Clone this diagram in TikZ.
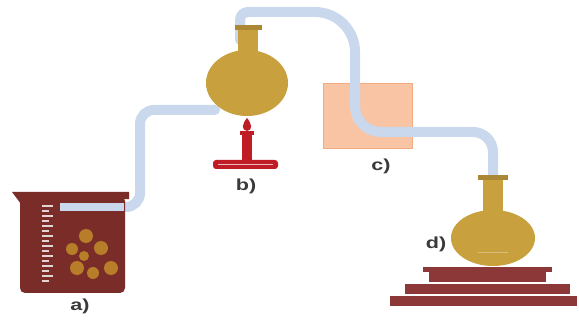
\documentclass[tikz,border=0pt]{standalone}
\usepackage{fontspec}
\setmainfont{Liberation Sans}

\definecolor{glass}{RGB}{201,216,236}
\definecolor{beakerred}{RGB}{122,44,40}
\definecolor{lump}{RGB}{196,140,42}
\definecolor{flask}{RGB}{201,160,62}
\definecolor{flame}{RGB}{192,28,38}
\definecolor{filterbox}{RGB}{249,196,164}
\definecolor{filteredge}{RGB}{242,172,132}
\definecolor{standred}{RGB}{140,56,56}
\definecolor{labelgray}{RGB}{58,58,58}

\tikzset{
  tube/.style={line width=10pt, glass, line cap=round},
  tag/.style={font=\fontsize{16}{18}\selectfont\bfseries, text=labelgray, xscale=1.35, inner sep=0pt},
}

\begin{document}
\begin{tikzpicture}[x=1pt, y=-1pt]
    \useasboundingbox (0, 0) rectangle (579, 323);
    \fill[white] (0, 0) rectangle (579, 323);

    % Tube ends
    \coordinate (inbeaker) at (60, 207);
    \coordinate (bneck) at (240, 40);
    \coordinate (dneck) at (493, 190);

    % Filter box c) sits under the tube
    \fill[filterbox, draw=filteredge] (323, 83) rectangle (412, 148);

    % Tube from the beaker up to flask b)
    \draw[tube] (inbeaker) [rounded corners=14pt] -- (140, 207) -- (140, 110) -- (215, 110);

    % Tube from flask b) through the box down to flask d)
    \draw[tube] (bneck) [rounded corners=8pt] -- (240, 12) [rounded corners=40pt] -- (355, 12)
        [rounded corners=26pt] -- (355, 132) [rounded corners=20pt] -- (493, 132) -- (dneck);

    % Beaker a)
    \fill[beakerred, rounded corners=5pt] (20, 196) -- (20, 293) -- (125, 293) -- (125, 196) -- cycle;
    \fill[beakerred] (12, 192) -- (129, 192) -- (129, 199) -- (21, 204) -- cycle;
    % graduation marks
    \foreach \k in {0,...,15} {
      \pgfmathsetmacro\len{mod(\k,2)==0 ? 11 : 7}
      \draw[white!80!beakerred, line width=1.4pt] (42, 206+5*\k) -- ++(\len, 0);
    }
    % solid lumps
    \foreach \p/\r in {{(86,236)}/7, {(72,249)}/6, {(101,248)}/7, {(111,268)}/7, {(77,268)}/7, {(93,273)}/6, {(84,256)}/5} {
      \fill[lump, opacity=0.85] \p circle (\r);
    }
    % tube end inside the beaker
    \draw[glass, line width=8pt] (inbeaker) -- (124, 207);

    % Burner under flask b)
    \fill[flame] (247, 118) .. controls (252, 124) and (253, 130) .. (247, 131)
        .. controls (241, 130) and (242, 124) .. (247, 118);
    \fill[flame] (240, 131) rectangle (254, 135);
    \fill[flame] (242, 135) rectangle (252, 161);
    \fill[flame, rounded corners=3pt] (213, 160) rectangle (278, 169);
    \draw[white!70!flame, line width=1pt] (218, 165) -- (273, 165);

    % Flask b)
    \fill[flask] (247, 83) ellipse (41 and 33);
    \fill[flask] (238, 30) rectangle (258, 56);
    \fill[flask!85!black] (235, 25) rectangle (262, 30);

    % Stand under flask d)
    \fill[standred] (423, 267) rectangle (552, 272);
    \fill[standred] (429, 272) rectangle (546, 282);
    \fill[standred] (405, 284) rectangle (570, 294);
    \fill[standred] (390, 296) rectangle (577, 306);

    % Flask d)
    \fill[flask] (493, 238) ellipse (42 and 28);
    \fill[flask] (483, 180) rectangle (503, 214);
    \fill[flask!85!black] (478, 175) rectangle (508, 180);
    \draw[flask!70!white, line width=0.8pt] (478, 252) -- (508, 252);

    % Labels
    \node[tag] (la) at (80, 306) {a)};
    \node[tag] (lb) at (246, 186) {b)};
    \node[tag] (lc) at (381, 166) {c)};
    \node[tag] (ld) at (436, 244) {d)};
\end{tikzpicture}
\end{document}
